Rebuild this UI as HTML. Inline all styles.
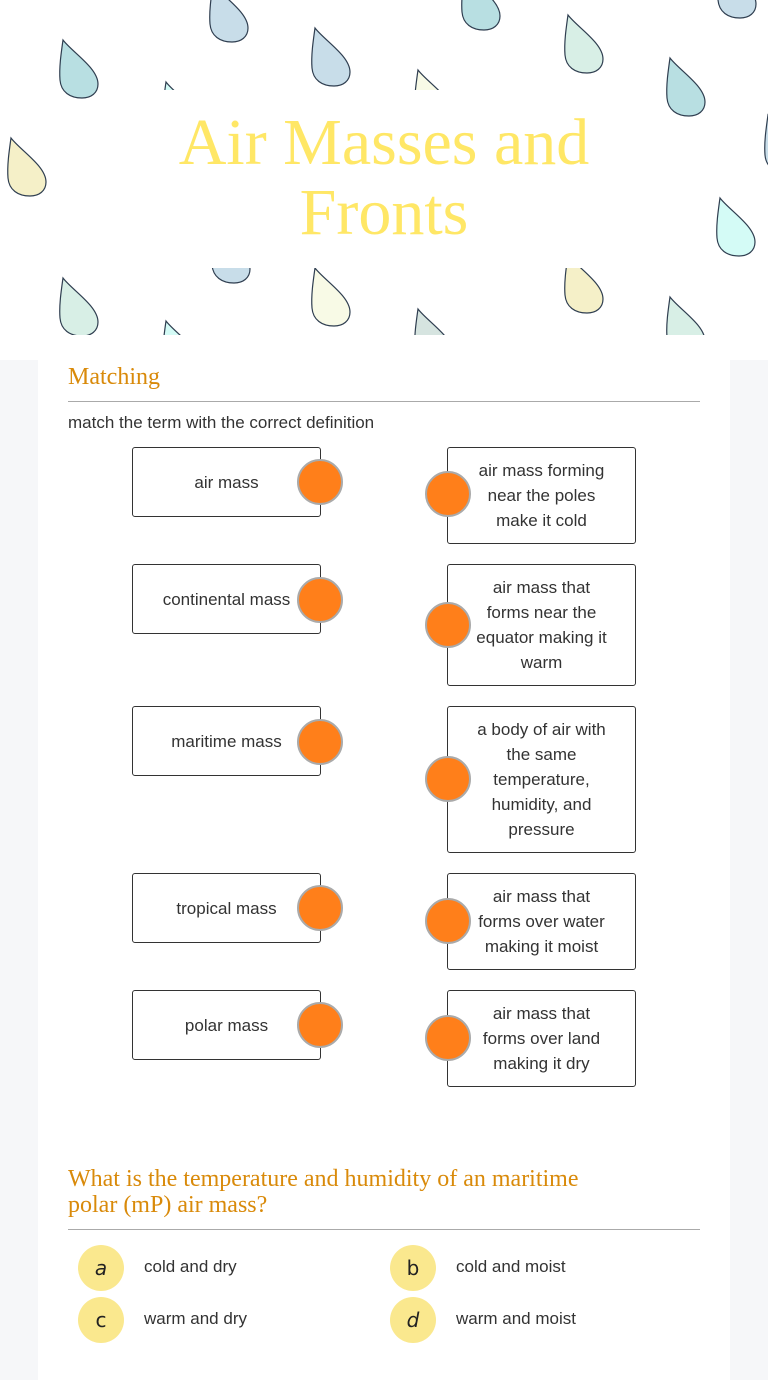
<!DOCTYPE html>
<html><head><meta charset="utf-8"><style>
*{margin:0;padding:0;box-sizing:border-box}
body{width:768px;height:1380px;background:#f6f7f9;font-family:"Liberation Sans",sans-serif;position:relative;overflow:hidden;color:#333}
#hdr{position:absolute;left:0;top:0;width:768px;height:360px;background:#fff}
#card{position:absolute;left:38px;top:360px;width:692px;height:1020px;background:#fff}
.t{position:absolute;left:0;width:768px;text-align:center;font-family:"Liberation Serif",serif;color:#ffe766;font-size:66px;line-height:70px}
.h{position:absolute;left:68px;font-family:"Liberation Serif",serif;color:#d98a0a;font-size:24px}
.box{position:absolute;width:189px;border:1px solid #333;border-radius:3px;background:#fff;font-size:17px;line-height:25px;text-align:center;display:flex;align-items:center;justify-content:center;padding:0 4px;white-space:nowrap}
.dot{position:absolute;width:46px;height:46px;border-radius:50%;background:#ff7f1a;border:2px solid #aaa}
.opt{position:absolute;width:46px;height:46px;border-radius:50%;background:#fae88e;font-size:20px;line-height:46px;text-align:center;font-family:"DejaVu Sans",sans-serif;color:#222}
.ot{position:absolute;font-size:17px;color:#333}
</style></head><body>
<div id="hdr">
<svg width="768" height="335" style="position:absolute;left:0;top:0">
<defs><path id="d" d="M3 0 C12 12 38 28 38 44 C38 53 31 58 22 58 C10 58 1 52 0 40 C-1 28 1 14 3 0 Z" stroke="#2f3e50" stroke-width="1.2"/></defs>
<use href="#d" x="60" y="40" fill="#b8dfe2"/>
<use href="#d" x="210" y="-16" fill="#c8dde9"/>
<use href="#d" x="312" y="28" fill="#c8dde9"/>
<use href="#d" x="462" y="-28" fill="#b8dfe2"/>
<use href="#d" x="565" y="15" fill="#d8efe6"/>
<use href="#d" x="667" y="58" fill="#b8dfe2"/>
<use href="#d" x="718" y="-40" fill="#c8dde9"/>
<use href="#d" x="8" y="138" fill="#f5f0c8"/>
<use href="#d" x="717" y="198" fill="#d4fbf6"/>
<use href="#d" x="163" y="82" fill="#d4fbf6"/>
<use href="#d" x="415" y="70" fill="#f8fae6"/>
<use href="#d" x="765" y="115" fill="#c8dde9"/>
<use href="#d" x="212" y="225" fill="#c8dde9"/>
<use href="#d" x="312" y="268" fill="#f8fae6"/>
<use href="#d" x="565" y="255" fill="#f5f0c8"/>
<use href="#d" x="60" y="278" fill="#d8efe6"/>
<use href="#d" x="163" y="321" fill="#d4fbf6"/>
<use href="#d" x="415" y="309" fill="#d6e4e0"/>
<use href="#d" x="667" y="297" fill="#d8efe6"/>
<rect x="110" y="90" width="550" height="178" fill="#fff"/>
</svg>
<div class="t" style="top:108px">Air Masses and</div>
<div class="t" style="top:178px">Fronts</div>
</div>
<div id="card"></div>
<div class="h" style="top:364px">Matching</div>
<div style="position:absolute;left:68px;top:401px;width:632px;height:1px;background:#aaa"></div>
<div class="ot" style="left:68px;top:413px">match the term with the correct definition</div>

<div class="box" style="left:132px;top:447px;height:70px">air mass</div>
<div class="box" style="left:132px;top:564px;height:70px">continental mass</div>
<div class="box" style="left:132px;top:706px;height:70px">maritime mass</div>
<div class="box" style="left:132px;top:873px;height:70px">tropical mass</div>
<div class="box" style="left:132px;top:990px;height:70px">polar mass</div>

<div class="box" style="left:447px;top:447px;height:97px">air mass forming<br>near the poles<br>make it cold</div>
<div class="box" style="left:447px;top:564px;height:122px">air mass that<br>forms near the<br>equator making it<br>warm</div>
<div class="box" style="left:447px;top:706px;height:147px">a body of air with<br>the same<br>temperature,<br>humidity, and<br>pressure</div>
<div class="box" style="left:447px;top:873px;height:97px">air mass that<br>forms over water<br>making it moist</div>
<div class="box" style="left:447px;top:990px;height:97px">air mass that<br>forms over land<br>making it dry</div>

<div class="dot" style="left:297px;top:459px"></div>
<div class="dot" style="left:297px;top:577px"></div>
<div class="dot" style="left:297px;top:719px"></div>
<div class="dot" style="left:297px;top:885px"></div>
<div class="dot" style="left:297px;top:1002px"></div>
<div class="dot" style="left:425px;top:471px"></div>
<div class="dot" style="left:425px;top:602px"></div>
<div class="dot" style="left:425px;top:756px"></div>
<div class="dot" style="left:425px;top:898px"></div>
<div class="dot" style="left:425px;top:1015px"></div>

<div class="h" style="top:1166px;line-height:26px;width:640px">What is the temperature and humidity of an maritime<br>polar (mP) air mass?</div>
<div style="position:absolute;left:68px;top:1229px;width:632px;height:1px;background:#aaa"></div>
<div class="opt" style="left:78px;top:1245px;font-style:italic">a</div>
<div class="opt" style="left:78px;top:1297px">c</div>
<div class="opt" style="left:390px;top:1245px">b</div>
<div class="opt" style="left:390px;top:1297px;font-style:italic">d</div>
<div class="ot" style="left:144px;top:1257px">cold and dry</div>
<div class="ot" style="left:144px;top:1309px">warm and dry</div>
<div class="ot" style="left:456px;top:1257px">cold and moist</div>
<div class="ot" style="left:456px;top:1309px">warm and moist</div>
</body></html>
